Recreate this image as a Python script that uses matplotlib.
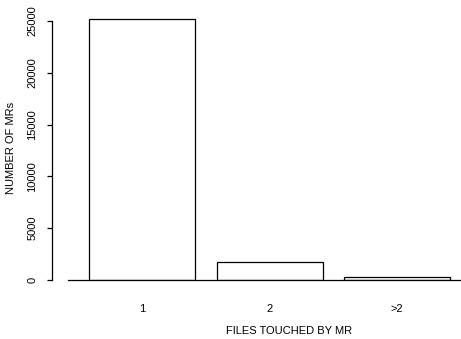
import numpy as np
import matplotlib
matplotlib.use('Agg')
import matplotlib.pyplot as plt

plt.rcParams['font.family'] = ['Liberation Sans', 'DejaVu Sans']
plt.rcParams['font.size'] = 8

categories = ['1', '2', '>2']
n_mrs = [25150, 1740, 320]
yticks = [0, 5000, 10000, 15000, 20000, 25000]

W, H = 461, 339
fig = plt.figure(figsize=(W / 100, H / 100), dpi=100)

# axes placed in pixel terms: spans the full width, bottom at the zero line
ax_bottom, ax_top = 280, 10
ax = fig.add_axes([0, 1 - ax_bottom / H, 1, (ax_bottom - ax_top) / H])

# R-style barplot geometry: width 1, space 0.2
lefts = 0.2 + 1.2 * np.arange(len(categories))
centers = lefts + 0.5
px_per_unit = 106.3
x0 = 0.2 - 89 / px_per_unit
ax.set_xlim(x0, x0 + W / px_per_unit)
per_px = 25000 / 259.0
ax.set_ylim(0, (ax_bottom - ax_top) * per_px)

ax.bar(centers, n_mrs, width=1.0, facecolor='white', edgecolor='black',
       linewidth=0.9, zorder=2)
ax.axhline(0, xmin=68 / W, xmax=1, color='black', linewidth=0.9,
           clip_on=False, zorder=3)

for s in ['top', 'right', 'bottom']:
    ax.spines[s].set_visible(False)
ax.spines['left'].set_position(('data', x0 + 52 / px_per_unit))
ax.spines['left'].set_bounds(0, 25000)
ax.spines['left'].set_linewidth(0.9)

ax.set_yticks(yticks)
ax.set_yticklabels([str(v) for v in yticks], rotation=90, va='center')
ax.tick_params(axis='y', length=3.6, width=0.9, pad=7)
ax.set_xticks(centers)
ax.set_xticklabels(categories)
ax.tick_params(axis='x', length=0, pad=17)

fig.text(289 / W, 1 - 331 / H, 'FILES TOUCHED BY MR', ha='center', va='center')
fig.text(10.5 / W, 1 - 148 / H, 'NUMBER OF MRs', ha='center', va='center',
         rotation=90)

fig.savefig('out.png', dpi=100)
